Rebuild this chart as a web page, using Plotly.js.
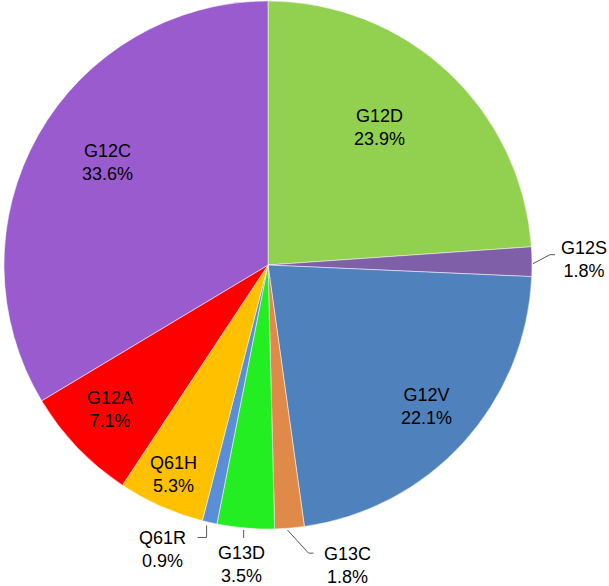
<!DOCTYPE html>
<html>
<head>
<meta charset="utf-8">
<script src="https://cdn.plot.ly/plotly-3.0.1.min.js"></script>
<style>
  html, body { margin: 0; padding: 0; background: #fff; }
  #plotArea { width: 609px; height: 586px; }
</style>
</head>
<body>
<div id="plotArea"></div>
<script>
// KRAS mutation shares, clockwise from 12 o'clock
var mutations = ["G12D", "G12S", "G12V", "G13C", "G13D", "Q61R", "Q61H", "G12A", "G12C"];
var shares = [23.9, 1.8, 22.1, 1.8, 3.5, 0.9, 5.3, 7.1, 33.6];
var sliceColors = ["#92d050", "#7f5fa8", "#4f81bd", "#df8a48", "#22ee22", "#5a8fd8", "#ffc000", "#ff0000", "#9a5bcf"];

// label placement (style only): inside labels sit at a fraction of the radius,
// outside labels sit at a pixel offset from the slice edge, with an elbow leader line
var labelInside = [true, false, true, false, false, false, true, true, true];
var insideFrac = [0.668, 0, 0.805, 0, 0, 0, 0.873, 0.812, 0.722];
var angleNudge = [-4.0, 0, -0.7, 0, 0, 0, 0.4, 1.2, 2.9];
var outsideLabel = {1: [52, -2], 3: [58, 37], 4: [-4, 36], 5: [-47, 27]};
var leaderPts = {
    1: [[1, 2], [18, -7], [23, -7]],
    3: [[-2, 2], [19, 25], [24, 25]],
    4: [[-2, 2], [-2, 10], [-2, 10]],
    5: [[-3, 3], [-3, 15], [-12, 15]]
};

var W = 609, H = 586;
var cx = 268, cy = 265, R = 264;
var domX = [(cx - R) / W, (cx + R) / W];
var domY = [1 - (cy + R) / H, 1 - (cy - R) / H];

function px(x) { return x / W; }
function py(y) { return 1 - y / H; }

var total = shares.reduce(function (a, b) { return a + b; }, 0);
var annotations = [];
var shapes = [];
var cum = 0;
shares.forEach(function (v, i) {
    var mid = (cum + v / 2) / total * 360;
    cum += v;
    var text = mutations[i] + "<br>" + v.toFixed(1) + "%";
    var font = {family: "Liberation Sans, Arial, sans-serif", size: 18, color: "#000"};
    var lx, ly;
    if (labelInside[i]) {
        var a = (mid + angleNudge[i]) * Math.PI / 180;
        var r = insideFrac[i] * R;
        lx = cx + r * Math.sin(a);
        ly = cy - r * Math.cos(a);
    } else {
        var b = mid * Math.PI / 180;
        var ex = cx + R * Math.sin(b), ey = cy - R * Math.cos(b);
        lx = ex + outsideLabel[i][0];
        ly = ey + outsideLabel[i][1];
        var path = leaderPts[i].map(function (p, k) {
            return (k ? "L" : "M") + px(ex + p[0]).toFixed(5) + "," + py(ey + p[1]).toFixed(5);
        }).join(" ");
        shapes.push({type: "path", xref: "paper", yref: "paper", path: path,
            line: {color: "#595959", width: 1}});
    }
    annotations.push({
        xref: "paper", yref: "paper", x: px(lx), y: py(ly),
        xanchor: "center", yanchor: "middle",
        text: text, showarrow: false, font: font, align: "center"
    });
});

var pieTrace = {
    type: "pie",
    labels: mutations,
    values: shares,
    sort: false,
    direction: "clockwise",
    rotation: 0,
    marker: {colors: sliceColors, line: {color: "#ffffff", width: 0.5}},
    textinfo: "none",
    hoverinfo: "none",
    domain: {x: domX, y: domY}
};

var pieLayout = {
    width: W,
    height: H,
    margin: {l: 0, r: 0, t: 0, b: 0},
    showlegend: false,
    paper_bgcolor: "#fff",
    annotations: annotations,
    shapes: shapes
};

Plotly.newPlot("plotArea", [pieTrace], pieLayout, {displayModeBar: false, staticPlot: true});
</script>
</body>
</html>
